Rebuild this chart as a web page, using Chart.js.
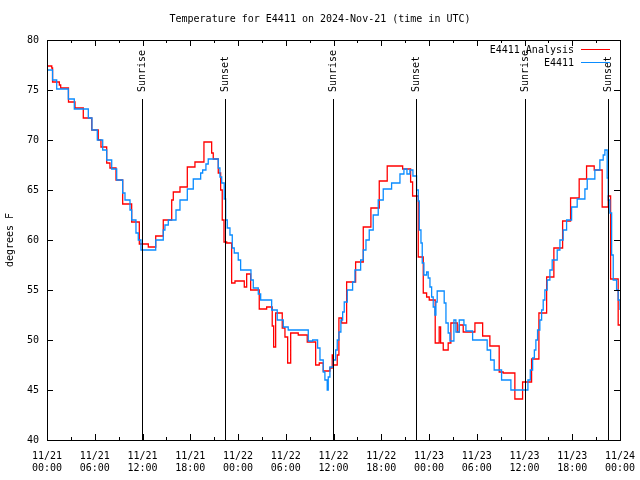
<!DOCTYPE html>
<html>
<head>
<meta charset="utf-8">
<script src="https://cdn.jsdelivr.net/npm/chart.js@4/dist/chart.umd.min.js"></script>
<style>
  body { margin: 0; background: #fff; }
</style>
</head>
<body>
<canvas id="chart" width="640" height="480"></canvas>
<script>
// hours since 11/21 00:00 UTC, degrees F (step data: value holds until next point)
const analysisHours = [0, 0.6, 0.7, 1.55, 1.72, 2.7, 3.52, 4.56, 5.62, 6.44, 6.78, 7.5, 7.91, 8.67, 9.51, 10.64,
  11.6, 12.73, 13.66, 14.61, 15.67, 15.87, 16.71, 17.63, 18.59, 19.72, 20.69, 20.89, 21.52, 21.82, 22.02, 22.24,
  22.58, 23.2, 23.62, 24.79, 25.09, 25.59, 26.67, 27.6, 28.3, 28.48, 28.73, 29.56, 29.9, 30.24, 30.62, 31.57,
  32.7, 33.76, 34.21, 34.71, 35.55, 35.84, 35.97, 36.47, 36.68, 37.02, 37.65, 38.78, 39.74, 40.7, 41.75, 42.75,
  44.69, 45.69, 45.94, 46.65, 47.28, 47.7, 48.03, 48.78, 49.28, 49.46, 49.79, 50.41, 50.75, 51.55, 51.8, 52.3,
  53.77, 54.74, 55.65, 56.82, 57.32, 58.79, 59.76, 60.89, 61.81, 62.78, 63.69, 64.79, 65.79, 66.87, 67.8, 68.76,
  69.76, 70.52, 70.82, 71.77, 72];
const analysisTemps = [77.4, 77.2, 75.8, 75.5, 75.2, 73.8, 73.2, 72.2, 71.0, 70.0, 69.3, 67.7, 67.2, 66.0, 63.6, 61.8,
  59.6, 59.3, 60.4, 62.0, 64.0, 64.8, 65.3, 67.3, 67.8, 69.8, 68.7, 68.1, 66.7, 65.0, 62.0, 59.8,
  59.7, 55.7, 55.9, 55.3, 56.6, 55.0, 53.1, 53.3, 51.4, 49.3, 52.7, 51.2, 50.3, 47.7, 50.7, 50.5,
  49.8, 47.5, 47.7, 46.9, 47.2, 48.5, 47.5, 48.5, 52.2, 51.7, 55.8, 57.8, 61.3, 63.2, 65.9, 67.4,
  67.1, 65.8, 64.4, 58.3, 54.7, 54.3, 54.0, 49.7, 51.3, 49.7, 49.0, 49.7, 51.7, 50.8, 51.5, 50.8,
  51.7, 50.4, 49.4, 46.8, 46.7, 44.1, 45.8, 48.1, 52.7, 56.3, 59.2, 61.9, 64.2, 66.1, 67.4, 67.0,
  63.3, 64.4, 56.1, 51.5, 51.5];

const obsHours = [0, 0.7, 1.22, 2.68, 3.43, 5.19, 5.65, 6.32, 7.0, 7.5, 8.13, 8.76, 9.51, 9.8, 10.43, 10.64,
  11.18, 11.47, 11.81, 13.66, 14.61, 14.82, 15.24, 16.21, 16.71, 17.63, 18.38, 19.31, 19.56, 19.97, 20.26, 21.52,
  21.73, 21.95, 22.27, 22.45, 22.65, 22.99, 23.28, 23.53, 24.03, 24.33, 25.63, 25.92, 26.55, 26.85, 28.23, 28.93,
  29.69, 30.31, 32.83, 33.38, 34.0, 34.3, 34.71, 34.92, 35.21, 35.34, 35.55, 35.97, 36.27, 36.47, 36.68, 36.93,
  37.15, 37.35, 37.73, 38.4, 38.69, 39.41, 39.74, 40.08, 40.49, 40.99, 41.62, 42.25, 43.3, 44.35, 44.85, 45.23,
  45.6, 45.98, 46.44, 46.65, 46.78, 46.99, 47.15, 47.36, 47.7, 47.9, 48.12, 48.33, 48.53, 48.74, 48.87, 49.03,
  49.91, 50.13, 50.41, 50.63, 51.13, 51.38, 51.8, 52.39, 52.64, 53.48, 55.31, 55.74, 56.19, 57.12, 58.29, 60.43,
  60.73, 61.02, 61.24, 61.43, 61.64, 61.93, 62.15, 62.35, 62.56, 62.85, 63.19, 63.48, 64.11, 64.45, 64.86, 65.29,
  65.92, 66.62, 67.59, 67.88, 68.84, 69.47, 69.89, 70.1, 70.39, 70.52, 70.73, 70.95, 71.15, 71.57, 71.77, 72];
const obsTemps = [77.0, 76.0, 75.1, 74.1, 73.1, 72.2, 71.0, 70.0, 69.0, 68.0, 67.1, 66.0, 64.7, 64.0, 63.0, 62.0,
  60.7, 60.0, 59.0, 60.0, 61.0, 61.5, 62.0, 63.0, 64.0, 65.1, 66.1, 66.7, 67.0, 67.6, 68.1, 67.2,
  66.3, 65.7, 64.1, 62.0, 61.2, 60.5, 59.2, 58.7, 58.0, 57.0, 56.0, 55.2, 54.6, 54.0, 53.0, 52.0,
  51.3, 51.0, 49.9, 50.0, 49.2, 48.0, 46.8, 46.0, 45.0, 46.3, 47.3, 48.0, 49.0, 50.0, 50.8, 52.0,
  52.8, 53.8, 55.0, 55.8, 57.0, 58.0, 59.0, 60.0, 61.0, 62.5, 64.0, 65.1, 65.7, 66.6, 67.1, 66.6,
  67.0, 66.4, 65.0, 63.9, 61.0, 59.7, 57.7, 56.5, 56.8, 56.2, 55.3, 54.3, 53.3, 52.5, 53.8, 54.9,
  53.7, 51.7, 50.7, 49.9, 52.0, 50.8, 52.0, 51.5, 50.9, 50.0, 49.0, 48.0, 47.0, 46.0, 45.0, 46.0,
  47.0, 48.2, 49.0, 50.0, 51.0, 52.0, 53.0, 54.0, 55.0, 56.0, 57.0, 58.0, 59.0, 60.0, 61.0, 62.0,
  63.3, 64.1, 65.1, 66.1, 67.0, 68.0, 68.5, 69.0, 66.2, 64.0, 62.7, 58.5, 56.0, 55.0, 54.0, 53.0];

const sunHours = [11.93, 22.36, 35.93, 46.36, 60.05, 70.48];
const sunLabels = ["Sunrise", "Sunset", "Sunrise", "Sunset", "Sunrise", "Sunset"];

const tickDates = ["11/21", "11/21", "11/21", "11/21", "11/22", "11/22", "11/22", "11/22", "11/23", "11/23", "11/23", "11/23", "11/24"];
const tickTimes = ["00:00", "06:00", "12:00", "18:00", "00:00", "06:00", "12:00", "18:00", "00:00", "06:00", "12:00", "18:00", "00:00"];

const FONT = "DejaVu Sans Mono";

function toPoints(xs, ys) {
  return xs.map((x, i) => ({x: x, y: ys[i]}));
}

// frame, inward ticks, sun lines, title, legend - gnuplot look
const decor = {
  id: "decor",
  afterDatasetsDraw(chart) {
    const ctx = chart.ctx;
    const a = chart.chartArea;
    const xs = chart.scales.x;
    const ys = chart.scales.y;
    ctx.save();
    ctx.strokeStyle = "#000";
    ctx.lineWidth = 1;

    // sunrise / sunset markers
    ctx.fillStyle = "#000";
    ctx.font = "10px " + FONT;
    sunHours.forEach((h, i) => {
      const px = Math.round(xs.getPixelForValue(h)) + 0.5;
      ctx.beginPath();
      ctx.moveTo(px, a.bottom);
      ctx.lineTo(px, 99);
      ctx.stroke();
      ctx.save();
      ctx.translate(px, 92);
      ctx.rotate(-Math.PI / 2);
      ctx.textAlign = "left";
      ctx.textBaseline = "middle";
      ctx.fillText(sunLabels[i], 0, 0);
      ctx.restore();
    });

    // frame
    ctx.strokeRect(Math.round(a.left) + 0.5, Math.round(a.top) + 0.5,
      Math.round(a.right - a.left), Math.round(a.bottom - a.top));

    // x ticks, major every 6 h, minor every 3 h, on bottom and top
    for (let h = 0; h <= 72; h += 3) {
      const px = Math.round(xs.getPixelForValue(h)) + 0.5;
      const len = h % 6 === 0 ? 6 : 3;
      ctx.beginPath();
      ctx.moveTo(px, a.bottom);
      ctx.lineTo(px, a.bottom - len);
      ctx.moveTo(px, a.top);
      ctx.lineTo(px, a.top + len);
      ctx.stroke();
    }
    // y ticks left and right
    for (let v = 40; v <= 80; v += 5) {
      const py = Math.round(ys.getPixelForValue(v)) + 0.5;
      ctx.beginPath();
      ctx.moveTo(a.left, py);
      ctx.lineTo(a.left + 6, py);
      ctx.moveTo(a.right, py);
      ctx.lineTo(a.right - 6, py);
      ctx.stroke();
    }

    // title
    ctx.textAlign = "center";
    ctx.textBaseline = "middle";
    ctx.fillText("Temperature for E4411 on 2024-Nov-21 (time in UTC)", 320, 19);

    // y axis title
    ctx.save();
    ctx.translate(10, 240);
    ctx.rotate(-Math.PI / 2);
    ctx.fillText("degrees F", 0, 0);
    ctx.restore();

    // legend
    const entries = [["E4411 Analysis", "#ff0000", 50], ["E4411", "#0a8cff", 63]];
    entries.forEach(e => {
      ctx.fillStyle = "#000";
      ctx.textAlign = "right";
      ctx.fillText(e[0], 574, e[2]);
      ctx.strokeStyle = e[1];
      ctx.beginPath();
      ctx.moveTo(581, e[2] - 0.5);
      ctx.lineTo(610, e[2] - 0.5);
      ctx.stroke();
    });
    ctx.restore();
  }
};

new Chart(document.getElementById("chart"), {
  type: "line",
  data: {
    datasets: [{
      label: "E4411 Analysis",
      data: toPoints(analysisHours, analysisTemps),
      borderColor: "#ff0000",
      borderWidth: 1.3,
      stepped: true,
      pointRadius: 0,
      order: 2
    }, {
      label: "E4411",
      data: toPoints(obsHours, obsTemps),
      borderColor: "#0a8cff",
      borderWidth: 1.3,
      stepped: true,
      pointRadius: 0,
      order: 1
    }]
  },
  options: {
    responsive: false,
    animation: false,
    layout: {padding: {left: 0, top: 40, right: 20, bottom: 0}},
    plugins: {legend: {display: false}, tooltip: {enabled: false}},
    scales: {
      x: {
        type: "linear",
        min: 0,
        max: 72,
        grid: {display: false, drawTicks: false},
        border: {display: false},
        afterFit: s => { s.height = 40; s.paddingLeft = 0; s.paddingRight = 0; },
        ticks: {
          stepSize: 6,
          autoSkip: false,
          maxRotation: 0,
          padding: 10,
          color: "#000",
          font: {family: FONT, size: 10},
          callback: v => [tickDates[v / 6], tickTimes[v / 6]]
        }
      },
      y: {
        min: 40,
        max: 80,
        grid: {display: false, drawTicks: false},
        border: {display: false},
        afterFit: s => { s.width = 47; s.paddingTop = 0; s.paddingBottom = 0; },
        ticks: {
          stepSize: 5,
          padding: 8,
          color: "#000",
          font: {family: FONT, size: 10}
        }
      }
    }
  },
  plugins: [decor]
});
</script>
</body>
</html>
